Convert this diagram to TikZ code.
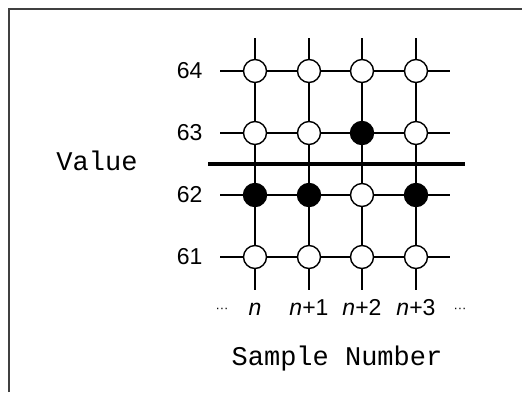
\documentclass[tikz,border=0pt]{standalone}
\usepackage{fontspec}
\setmainfont{Liberation Sans}
\setmonofont{Liberation Mono}
\usetikzlibrary{positioning}

\begin{document}
\begin{tikzpicture}[
    x=1pt, y=-1pt,
    every node/.style={font=\fontsize{23}{25}\selectfont},
    level/.style={circle, draw, line width=1.4pt, fill=white, minimum size=23pt, inner sep=0pt},
    hit/.style={level, fill=black},
    wire/.style={line width=1.4pt},
    caption/.style={font=\ttfamily\fontsize{27}{30}\selectfont, anchor=base}
  ]
    \useasboundingbox (0,0) rectangle (522,392);
    \draw[line width=1.6pt, black!75] (9,392) |- (522,9);

    % sample points, one row per value
    \foreach \r/\y/\sa/\sb/\sc/\sd in {64/71/level/level/level/level,
        63/133/level/level/hit/level, 62/195/hit/hit/level/hit,
        61/257/level/level/level/level} {
      \node[\sa] (a\r) at (255,\y) {};
      \node[\sb] (b\r) at (309,\y) {};
      \node[\sc] (c\r) at (362,\y) {};
      \node[\sd] (d\r) at (416,\y) {};
      \coordinate (l\r) at (220,\y);
      \coordinate (r\r) at (450,\y);
      \draw[wire] (l\r) -- (a\r) -- (b\r) -- (c\r) -- (d\r) -- (r\r);
      \node[left=14pt of l\r] (v\r) {\r};
    }

    \foreach \k/\x in {a/255,b/309,c/362,d/416} {
      \coordinate (t\k) at (\x,38);
      \coordinate (u\k) at (\x,290);
      \draw[wire] (t\k) -- (\k64) -- (\k63) -- (\k62) -- (\k61) -- (u\k);
    }

    % threshold
    \coordinate (thl) at (208,164);
    \coordinate (thr) at (465,164);
    \draw[line width=4.5pt] (thl) -- (thr);

    \node[anchor=base] (na) at (255,315) {\textit{n}};
    \node[anchor=base] (nb) at (309,315) {\textit{n}+1};
    \node[anchor=base] (nc) at (362,315) {\textit{n}+2};
    \node[anchor=base] (nd) at (416,315) {\textit{n}+3};
    \node[anchor=base, font=\fontsize{13}{14}\selectfont] (dl) at (222,312) {···};
    \node[anchor=base, font=\fontsize{13}{14}\selectfont] (dr) at (460,312) {···};

    \node[caption] (value) at (97,170) {Value};
    \node[caption] (sample) at (337,365) {Sample Number};
\end{tikzpicture}
\end{document}
